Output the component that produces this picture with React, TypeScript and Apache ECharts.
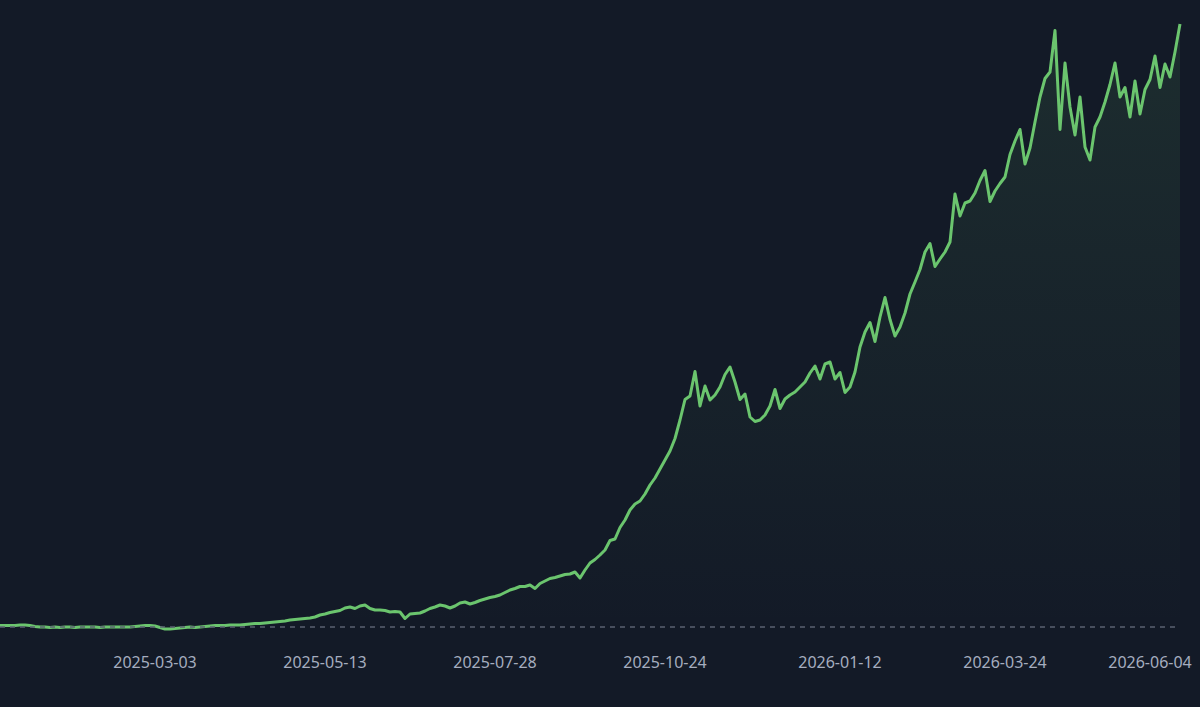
import React, { useEffect, useRef } from "react";
import * as echarts from "echarts";

// Cumulative return (%), one point per step
const returnPct: number[] = [
  3, 3, 3, 3, 4, 4, 3, 1, 0, 0,
  -1, 0, -1, 0, 0, -1, 0, 0, 0, 0,
  -1, 0, 0, 0, 0, 0, 0, 1, 2, 3,
  3, 2, -1, -4, -4, -3, -2, -1, 0, -1,
  0, 1, 2, 3, 3, 3, 4, 4, 4, 5,
  6, 7, 7, 8, 9, 10, 11, 12, 14, 15,
  16, 17, 18, 20, 24, 26, 29, 31, 33, 38,
  40, 37, 42, 44, 37, 34, 34, 33, 30, 31,
  30, 17, 26, 27, 28, 32, 37, 40, 44, 42,
  38, 42, 48, 50, 46, 49, 53, 56, 59, 61,
  64, 69, 74, 77, 81, 81, 84, 77, 87, 92,
  97, 99, 102, 105, 106, 110, 98, 114, 128, 135,
  144, 154, 173, 176, 199, 214, 234, 246, 252, 266,
  284, 298, 316, 334, 352, 377, 414, 455, 462, 511,
  442, 482, 454, 464, 480, 505, 520, 490, 455, 466,
  420, 411, 414, 424, 442, 475, 437, 456, 464, 470,
  480, 490, 508, 522, 496, 526, 530, 496, 509, 469,
  480, 510, 560, 590, 609, 571, 620, 659, 615, 582,
  600, 628, 666, 690, 715, 750, 767, 721, 736, 750,
  770, 866, 822, 848, 852, 868, 893, 913, 851, 872,
  887, 900, 945, 972, 995, 926, 958, 1010, 1060, 1097,
  1110, 1193, 995, 1128, 1040, 984, 1060, 960, 934, 1000,
  1020, 1050, 1085, 1128, 1060, 1079, 1020, 1092, 1026, 1075,
  1095, 1142, 1079, 1126, 1100, 1150, 1206,
];

// Tick labels and the point index each one sits under
const tickLabels: string[] = [
  "2025-03-03",
  "2025-05-13",
  "2025-07-28",
  "2025-10-24",
  "2026-01-12",
  "2026-03-24",
  "2026-06-04",
];
const tickIndex: number[] = [31, 65, 99, 133, 168, 201, 230];

const baselineValue = 0;

export default function App() {
  const ref = useRef<HTMLDivElement>(null);

  useEffect(() => {
    document.body.style.margin = "0";
    document.body.style.background = "#131a27";
    if (!ref.current) return;
    const chart = echarts.init(ref.current, undefined, { renderer: "svg" });
    const categories = returnPct.map((_, i) => String(i));
    chart.setOption({
      animation: false,
      backgroundColor: "#131a27",
      grid: { left: 0, right: 20, top: 20, bottom: 62, containLabel: false },
      xAxis: {
        type: "category",
        data: categories,
        boundaryGap: false,
        axisLine: { show: false },
        axisTick: { show: false },
        splitLine: { show: false },
        axisLabel: {
          interval: (index: number) => tickIndex.includes(index),
          formatter: (_v: string, index: number) => {
            const k = tickIndex.indexOf(index);
            return k >= 0 ? tickLabels[k] : "";
          },
          color: "#a5adbf",
          fontSize: 16,
          fontFamily: "Noto Sans",
          margin: 9,
        },
      },
      yAxis: {
        type: "value",
        min: -36,
        max: 1214,
        show: false,
        splitLine: { show: false },
      },
      series: [
        {
          type: "line",
          data: returnPct,
          showSymbol: false,
          symbol: "none",
          lineStyle: { color: "#6bc56e", width: 3, join: "round" },
          itemStyle: { color: "#6bc56e" },
          areaStyle: {
            color: new echarts.graphic.LinearGradient(0, 0, 0, 1, [
              { offset: 0, color: "rgba(107,197,110,0.16)" },
              { offset: 1, color: "rgba(107,197,110,0)" },
            ]),
          },
          markLine: {
            silent: true,
            symbol: "none",
            label: { show: false },
            lineStyle: { color: "#5b6272", width: 1.5, type: [5, 5] },
            data: [{ yAxis: baselineValue }],
          },
        },
      ],
    });
    return () => chart.dispose();
  }, []);

  return <div ref={ref} style={{ width: 1200, height: 707 }} />;
}
